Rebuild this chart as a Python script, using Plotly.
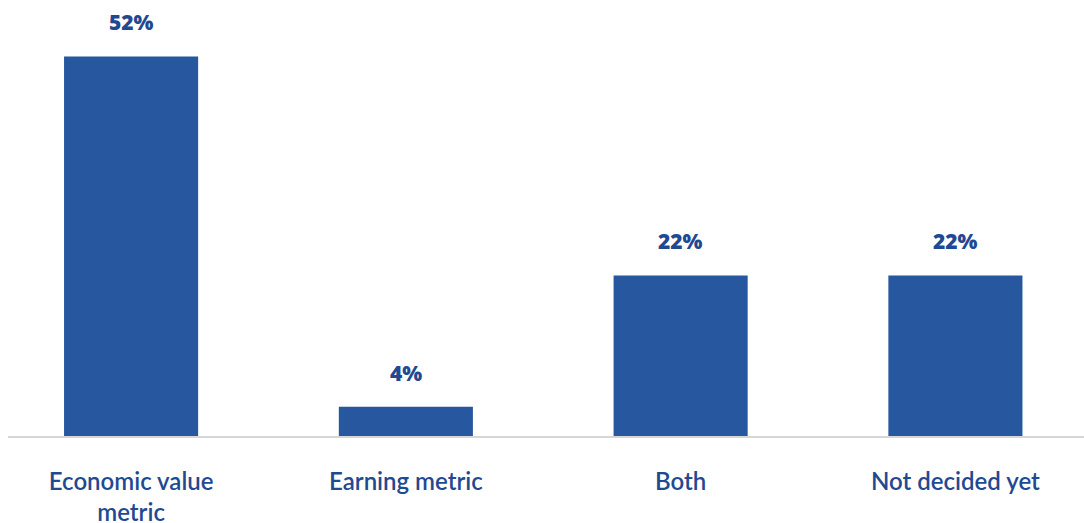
import plotly.graph_objects as go

# Survey responses: which metric is used
categories = ["Economic value<br>metric", "Earning metric", "Both", "Not decided yet"]
shares = [52, 4, 22, 22]
value_labels = ["52%", "4%", "22%", "22%"]

BAR_COLOR = "#27579f"
TEXT_COLOR = "#1f4a92"
FONT = "Lato, 'Open Sans', sans-serif"
VALUE_FONT = "'Open Sans', Lato, sans-serif"

fig = go.Figure(
    go.Bar(
        x=categories,
        y=shares,
        marker=dict(color=BAR_COLOR, line=dict(width=0)),
        width=0.488,
        hoverinfo="skip",
    )
)

# Value labels above each bar
for cat, val, lab in zip(categories, shares, value_labels):
    fig.add_annotation(
        x=cat, y=val, text=lab, showarrow=False,
        yanchor="bottom", yshift=18,
        font=dict(family=VALUE_FONT, size=21, color=TEXT_COLOR, weight=800),
    )

fig.update_layout(
    width=1084, height=523,
    margin=dict(l=8, r=0, t=20, b=87),
    paper_bgcolor="white", plot_bgcolor="white",
    showlegend=False,
    xaxis=dict(
        type="category",
        range=[-0.448, 3.468],
        automargin=False,
        showline=True, linecolor="#d6d6d6", linewidth=2,
        showgrid=False, zeroline=False, ticks="",
        tickfont=dict(family=FONT, size=24, color=TEXT_COLOR, weight=600),
        ticklabelstandoff=23,
    ),
    yaxis=dict(
        range=[0, 57], visible=False, showgrid=False, zeroline=False,
        automargin=False,
    ),
)

fig.write_html("out.html")
